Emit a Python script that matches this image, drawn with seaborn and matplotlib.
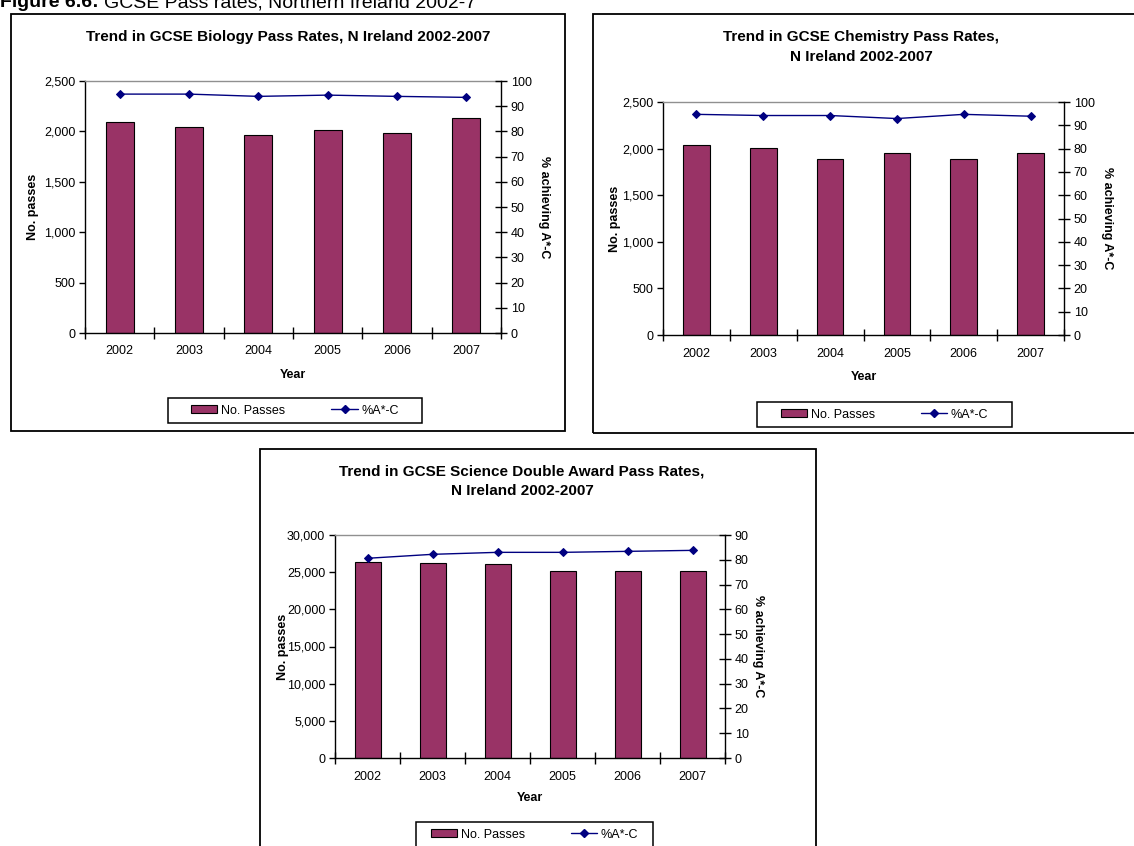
import numpy as np
import matplotlib
matplotlib.use("Agg")
import matplotlib.pyplot as plt
from matplotlib.patches import Rectangle, Patch
from matplotlib.lines import Line2D
from matplotlib.ticker import FuncFormatter, MultipleLocator
import seaborn as sns

# ---------------- data ----------------
years = ["2002", "2003", "2004", "2005", "2006", "2007"]

bio_passes = [2090, 2040, 1965, 2015, 1985, 2130]
bio_pct = [94.8, 94.8, 93.9, 94.4, 93.9, 93.5]

chem_passes = [2036, 2004, 1890, 1950, 1890, 1957]
chem_pct = [94.7, 94.2, 94.2, 92.9, 94.7, 93.9]

sci_passes = [26370, 26230, 26100, 25160, 25160, 25160]
sci_pct = [80.6, 82.2, 83.0, 83.0, 83.4, 83.8]

bio_title = "Trend in GCSE Biology Pass Rates, N Ireland 2002-2007"
chem_title = "Trend in GCSE Chemistry Pass Rates,\nN Ireland 2002-2007"
sci_title = "Trend in GCSE Science Double Award Pass Rates,\nN Ireland 2002-2007"

# ---------------- style ----------------
sns.set_theme(style="white")
plt.rcParams["font.family"] = ["Liberation Sans", "DejaVu Sans"]
for k in ["text.color", "axes.labelcolor", "xtick.color", "ytick.color", "axes.edgecolor"]:
    plt.rcParams[k] = "black"

BAR = "#993366"
LINE = "#000080"
W, H = 1134, 846

fig = plt.figure(figsize=(W / 100, H / 100), dpi=100)
fig.patch.set_facecolor("white")


def fx(x):
    return x / W


def fy(y):
    return 1 - y / H


def rect(l, r, t, b):
    return [fx(l), fy(b), (r - l) / W, (b - t) / H]


def border(l, r, t, b, lw=1.3):
    fig.patches.append(Rectangle((fx(l), fy(b)), (r - l) / W, (b - t) / H,
                                 transform=fig.transFigure, fill=False,
                                 edgecolor="black", linewidth=lw, zorder=0))


def panel(box, title, title_xy, passes, pct, ymax, ystep, pmax,
          ylab_x, rlab_x, year_y, leg_box):
    l, r, t, b = box
    ax = fig.add_axes(rect(l, r, t, b))
    ax2 = ax.twinx()
    sns.barplot(x=years, y=passes, ax=ax, color=BAR, width=0.4, saturation=1,
                edgecolor="black", linewidth=0.8, zorder=2)
    sns.pointplot(x=years, y=pct, ax=ax2, color=LINE, markers="D",
                  markersize=4, linewidth=1, errorbar=None)
    ax.set_ylim(0, ymax)
    ax.yaxis.set_major_locator(MultipleLocator(ystep))
    ax.yaxis.set_major_formatter(FuncFormatter(lambda v, p: f"{v:,.0f}"))
    ax2.set_ylim(0, pmax)
    ax2.yaxis.set_major_locator(MultipleLocator(10))
    ax.set_xlim(-0.5, len(years) - 0.5)
    ax.set_xticks(np.arange(-0.5, len(years), 1.0))
    ax.set_xticklabels([])
    ax.set_xticks(np.arange(len(years)), minor=True)
    ax.set_xticklabels(years, minor=True)
    ax.tick_params(axis="x", which="major", direction="inout", length=8,
                   width=1, bottom=True)
    ax.tick_params(axis="x", which="minor", length=0, pad=9, labelsize=9)
    ax.tick_params(axis="y", direction="out", length=4, width=1, left=True,
                   labelsize=9, pad=3)
    ax2.tick_params(axis="y", direction="inout", length=8, width=1, right=True,
                    labelsize=9, pad=3)
    ax.set_xlabel("")
    ax.set_ylabel("")
    ax2.set_ylabel("")
    ax.grid(False)
    ax2.grid(False)
    for s in ["left", "bottom"]:
        ax.spines[s].set_color("black")
        ax.spines[s].set_linewidth(1)
    ax.spines["top"].set_color("#909090")
    ax.spines["top"].set_linewidth(1)
    ax.spines["right"].set_visible(False)
    for s in ["left", "bottom", "top"]:
        ax2.spines[s].set_visible(False)
    ax2.spines["right"].set_color("black")
    ax2.spines["right"].set_linewidth(1)

    fig.text(fx(title_xy[0]), fy(title_xy[1]), title, ha="center", va="center",
             fontsize=11, fontweight="bold", linespacing=1.5)
    mid = (t + b) / 2
    fig.text(fx(ylab_x), fy(mid), "No. passes", rotation=90, ha="center",
             va="center", fontsize=9, fontweight="bold")
    fig.text(fx(rlab_x), fy(mid), "% achieving A*-C", rotation=-90, ha="center",
             va="center", fontsize=9, fontweight="bold")
    fig.text(fx((l + r) / 2), fy(year_y), "Year", ha="center", va="center",
             fontsize=9, fontweight="bold")

    ll, lr, lt, lb = leg_box
    border(ll, lr, lt, lb, lw=1.1)
    handles = [Patch(facecolor=BAR, edgecolor="black", linewidth=0.8),
               Line2D([], [], color=LINE, marker="D", markersize=4, linewidth=1)]
    cx = (ll + lr) / 2
    cy = (lt + min(lb, lt + 25)) / 2
    fig.legend(handles, ["No. Passes", "%A*-C"], ncol=2,
               loc="center", bbox_to_anchor=(fx(cx), fy(cy)),
               bbox_transform=fig.transFigure, fontsize=9, frameon=False,
               handlelength=2.1, handleheight=0.6, handletextpad=0.3,
               columnspacing=3.7, borderpad=0.3)
    return ax, ax2


# borders
border(11, 565, 14, 431)
border(593, 1145, 14, 433)
border(260, 816, 449, 860)

panel((85, 501, 81, 333), bio_title, (288, 37), bio_passes, bio_pct,
      2500, 500, 100, 33, 544, 375, (168, 422, 398, 423))
panel((663, 1064, 102, 335), chem_title, (861, 47), chem_passes, chem_pct,
      2500, 500, 100, 615, 1107, 377, (757, 1012, 402, 427))
panel((335, 725, 535, 758), sci_title, (522, 481), sci_passes, sci_pct,
      30000, 5000, 90, 283, 758, 798, (416, 653, 822, 860))

# heading at the very top (cut off by the page edge, as in the source)
renderer = fig.canvas.get_renderer()
t1 = fig.text(0.0, fy(7), "Figure 6.6:", fontsize=14, fontweight="bold",
              ha="left", va="baseline")
bb = t1.get_window_extent(renderer=renderer)
fig.text(bb.x1 / W + 5 / W, fy(7), "GCSE Pass rates, Northern Ireland 2002-7",
         fontsize=14, ha="left", va="baseline")

fig.savefig("out.png", dpi=100, facecolor="white")
